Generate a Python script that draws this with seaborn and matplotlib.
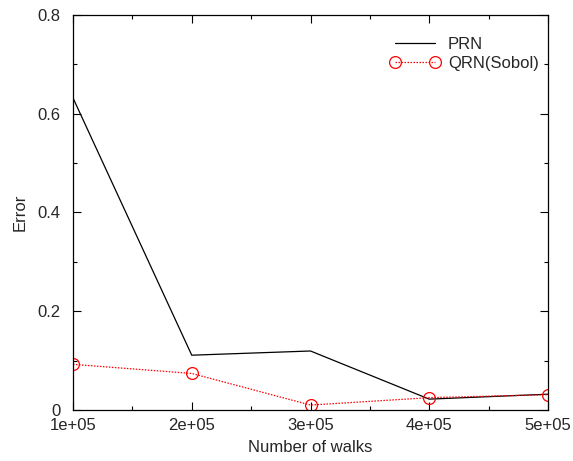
import numpy as np
import pandas as pd
import matplotlib
matplotlib.use("Agg")
import matplotlib.pyplot as plt
from matplotlib.ticker import FixedLocator, MultipleLocator
import seaborn as sns

walks = [100000, 200000, 300000, 400000, 500000]
prn_error = [0.632, 0.111, 0.1195, 0.022, 0.032]
qrn_error = [0.0925, 0.074, 0.010, 0.025, 0.031]
xtick_labels = ["1e+05", "2e+05", "3e+05", "4e+05", "5e+05"]
ytick_labels = ["0", "0.2", "0.4", "0.6", "0.8"]

sns.set_style("ticks")
plt.rcParams['font.family'] = ['Liberation Sans', 'DejaVu Sans']

fig = plt.figure(figsize=(5.73, 4.61), dpi=100)
ax = fig.add_axes([73 / 573, 1 - 410 / 461, 475 / 573, 395 / 461])

df = pd.DataFrame({"walks": walks, "PRN": prn_error, "QRN(Sobol)": qrn_error})

sns.lineplot(data=df, x="walks", y="PRN", ax=ax, color="black", lw=0.9, label="PRN")
sns.lineplot(data=df, x="walks", y="QRN(Sobol)", ax=ax, color="red", lw=0.9,
             linestyle=(0, (1.2, 1.2)), marker="o", markersize=8.5,
             markerfacecolor="none", markeredgecolor="red", markeredgewidth=0.9,
             label="QRN(Sobol)")

ax.set_xlim(100000, 500000)
ax.set_ylim(0, 0.8)
ax.xaxis.set_major_locator(FixedLocator(walks))
ax.set_xticklabels(xtick_labels)
ax.xaxis.set_minor_locator(MultipleLocator(50000))
ax.yaxis.set_major_locator(FixedLocator([0, 0.2, 0.4, 0.6, 0.8]))
ax.set_yticklabels(ytick_labels)
ax.yaxis.set_minor_locator(MultipleLocator(0.1))

ax.tick_params(which="both", direction="in", top=True, right=True, labelsize=12,
               width=0.8, color="black")
ax.tick_params(which="major", length=6)
ax.tick_params(which="minor", length=3)
ax.tick_params(axis="x", pad=6)
ax.tick_params(axis="y", pad=9)
for s in ax.spines.values():
    s.set_linewidth(0.9)
    s.set_color("black")

ax.set_xlabel("Number of walks", fontsize=12, labelpad=5)
ax.set_ylabel("Error", fontsize=12, labelpad=7)

leg = ax.legend(loc="upper right", frameon=False, fontsize=12, numpoints=2,
                handlelength=3.0, handletextpad=0.45, borderaxespad=0.3,
                labelspacing=0.25, bbox_to_anchor=(1.005, 0.975))

fig.savefig("out.png", dpi=100)
